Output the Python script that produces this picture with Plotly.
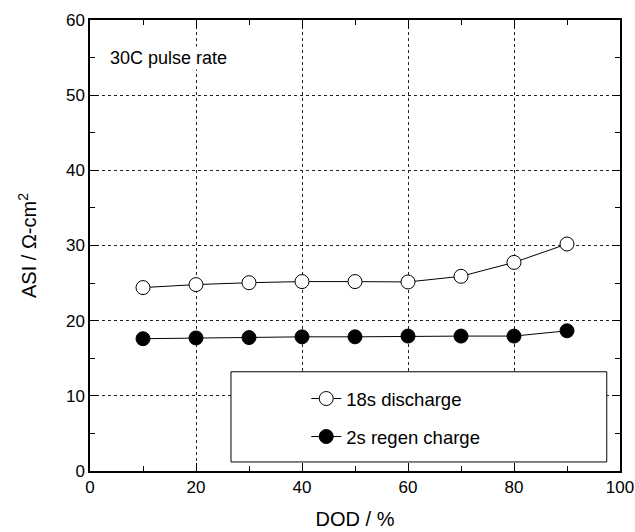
import plotly.graph_objects as go

# Depth of discharge (%) and area-specific impedance (ohm-cm^2)
dod = [10, 20, 30, 40, 50, 60, 70, 80, 90]
asi_discharge = [24.4, 24.8, 25.05, 25.2, 25.2, 25.15, 25.9, 27.75, 30.2]
asi_regen = [17.6, 17.7, 17.75, 17.85, 17.85, 17.95, 17.95, 17.95, 18.65]

series_names = ["18s discharge", "2s regen charge"]
x_range = [0, 100]
y_range = [0, 60]

FONT = "Liberation Sans, Arial, sans-serif"

fig = go.Figure()

fig.add_trace(go.Scatter(
    x=dod, y=asi_discharge, name=series_names[0], mode="lines+markers",
    line=dict(color="black", width=1),
    marker=dict(symbol="circle", size=14, color="white",
                line=dict(color="black", width=1)),
    legend="legend", showlegend=True,
))
fig.add_trace(go.Scatter(
    x=dod, y=asi_regen, name=series_names[1], mode="lines+markers",
    line=dict(color="black", width=1),
    marker=dict(symbol="circle", size=14, color="black",
                line=dict(color="black", width=1)),
    legend="legend2", showlegend=True,
))

# Legend frame drawn in data space
fig.add_shape(type="rect", xref="x", yref="y", x0=26.6, x1=97.5, y0=1.2, y1=13.2,
              line=dict(color="black", width=1), fillcolor="white", layer="above")

fig.add_annotation(x=3.4, y=54.9, xref="x", yref="y", text="30C pulse rate",
                   showarrow=False, xanchor="left", yanchor="middle",
                   bgcolor="white",
                   font=dict(family=FONT, size=18, color="black"))

axis_common = dict(
    showline=True, linecolor="black", linewidth=1.5, mirror="ticks",
    ticks="inside", ticklen=8, tickwidth=1.2, tickcolor="black",
    showgrid=True, gridcolor="#222222", gridwidth=1, griddash="dot",
    zeroline=False, automargin=False,
    tickfont=dict(family=FONT, size=17, color="black"),
)

fig.update_xaxes(
    range=x_range, dtick=20, tick0=0,
    title=dict(text="DOD / %", font=dict(family=FONT, size=20, color="black"), standoff=16),
    minor=dict(dtick=10, ticks="inside", ticklen=5, tickcolor="black", showgrid=False),
    **axis_common,
)
fig.update_yaxes(
    range=y_range, dtick=10, tick0=0,
    title=dict(text="ASI / Ω-cm<sup>2</sup>", font=dict(family=FONT, size=20, color="black"), standoff=24),
    minor=dict(dtick=5, ticks="inside", ticklen=5, tickcolor="black", showgrid=False),
    **axis_common,
)

legend_style = dict(
    xanchor="left", yanchor="middle", bgcolor="rgba(0,0,0,0)", borderwidth=0,
    font=dict(family=FONT, size=18.5, color="black"),
)
fig.update_layout(
    width=635, height=532,
    margin=dict(l=90, r=15, t=20, b=61),
    paper_bgcolor="white", plot_bgcolor="white",
    showlegend=True,
    legend=dict(x=0.408, y=(471 - 399) / 451, **legend_style),
    legend2=dict(x=0.408, y=(471 - 437) / 451, **legend_style),
)

fig.write_html("out.html")
